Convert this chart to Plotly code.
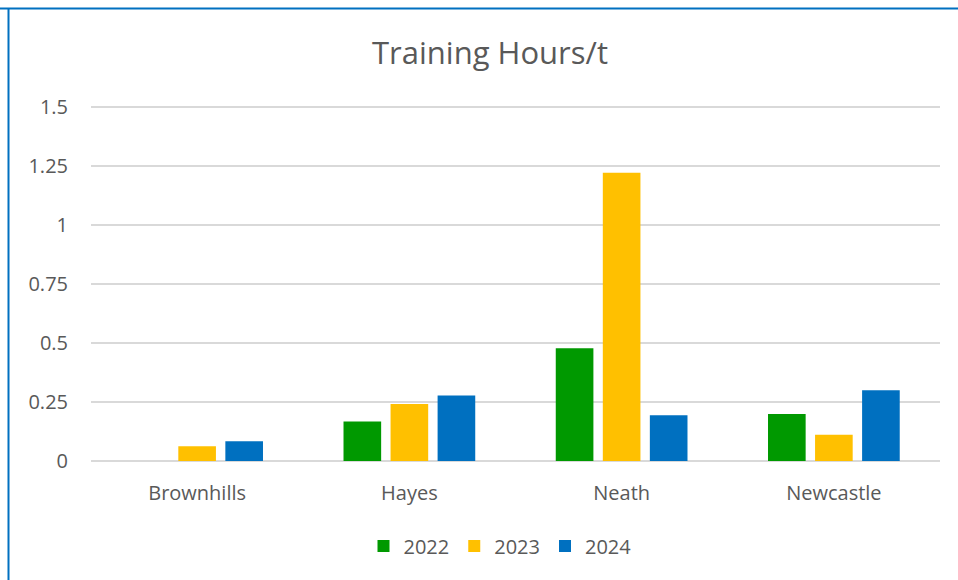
import plotly.graph_objects as go

categories = ["Brownhills", "Hayes", "Neath", "Newcastle"]
years = ["2022", "2023", "2024"]
values_2022 = [0.0, 0.167, 0.478, 0.199]
values_2023 = [0.062, 0.242, 1.222, 0.111]
values_2024 = [0.084, 0.278, 0.194, 0.300]
colors = ["#009900", "#FFC000", "#0070C0"]
y_ticks = [0, 0.25, 0.5, 0.75, 1, 1.25, 1.5]
y_tick_labels = ["0", "0.25", "0.5", "0.75", "1", "1.25", "1.5"]

FONT = "Open Sans"
GREY = "#595959"

fig = go.Figure()
for name, vals, col in zip(years, [values_2022, values_2023, values_2024], colors):
    fig.add_trace(go.Bar(x=categories, y=vals, name=name, marker=dict(color=col, line=dict(width=0))))

L, R, T, B = 91, 18, 100, 119
W, H = 958, 580
pw = W - L - R
ph = H - T - B
Y_MAX = 1.53

def px_x(px):
    return (px - L) / pw

def px_y(py):
    return (H - B - py) / ph

fig.update_layout(
    width=W, height=H,
    margin=dict(l=L, r=R, t=T, b=B, pad=0),
    paper_bgcolor="white", plot_bgcolor="white",
    barmode="group", bargap=0.335, bargroupgap=0.2,
    title=dict(text="Training Hours/t", x=px_x(490), xref="paper", xanchor="center",
               y=1 - 53 / H, yanchor="middle",
               font=dict(family=FONT, size=31, color=GREY)),
    font=dict(family=FONT, size=20, color=GREY),
    xaxis=dict(showgrid=False, showline=False, ticks="", ticklabelstandoff=18,
               tickfont=dict(size=20, color=GREY)),
    yaxis=dict(range=[0, Y_MAX], tickvals=y_ticks, ticktext=y_tick_labels,
               showgrid=True, gridcolor="#D9D9D9", gridwidth=1.5,
               zeroline=True, zerolinecolor="#D9D9D9", zerolinewidth=1.5,
               showline=False, ticks="", ticklabelstandoff=22,
               tickfont=dict(size=20, color=GREY)),
    legend=dict(orientation="h", x=px_x(500), xanchor="center", y=px_y(546), yanchor="middle",
                font=dict(size=20, color=GREY), itemwidth=30, traceorder="normal"),
    shapes=[
        dict(type="line", xref="paper", yref="paper", x0=px_x(0), x1=px_x(W), y0=px_y(8.5), y1=px_y(8.5),
             line=dict(color="#0070C0", width=2)),
        dict(type="line", xref="paper", yref="paper", x0=px_x(8.5), x1=px_x(8.5), y0=px_y(8.5), y1=px_y(H),
             line=dict(color="#0070C0", width=2)),
    ],
)

fig.write_html("out.html", config={"displayModeBar": False},
               post_script="document.body.style.margin='0';document.body.style.overflow='hidden';")
